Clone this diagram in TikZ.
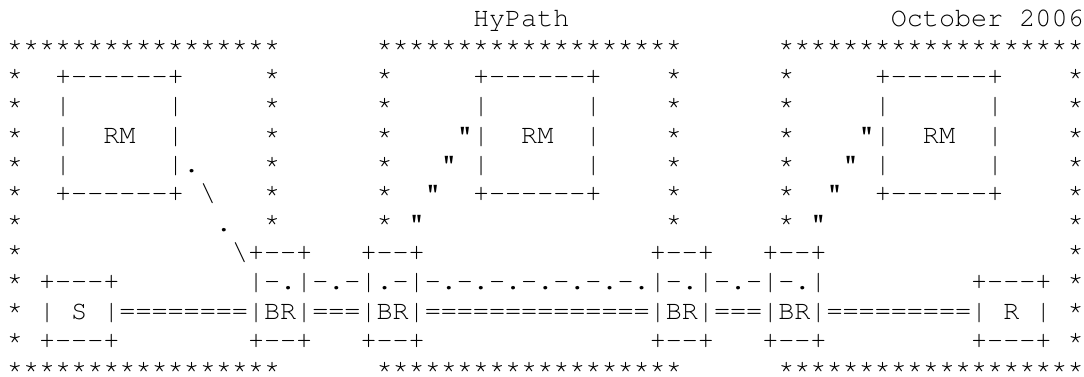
\documentclass[tikz,border=0pt]{standalone}
\usepackage[T1]{fontenc}
\renewcommand\ttdefault{pcr}
\newcommand\asciisize{\fontsize{26.78}{30}\selectfont}
% character grid: 16.07pt per column, 29.33pt per line
\newcommand\seg[5][]{\node[ascii,#1] (#2) at ({6.965+16.07*(#3)},{350-29.33*(#4)}) {#5};}
% dashes kept apart so that no ligature forms
\newcommand\dsix{-{}-{}-{}-{}-{}-}
\newcommand\dthree{-{}-{}-}
\newcommand\dtwo{-{}-}
\tikzset{
  ascii/.style={font=\ttfamily\asciisize, inner sep=0pt, outer sep=0pt,
    anchor=base west, text=black, text depth=0pt},
  frame/.style={yshift=4pt}
}
\begin{document}
\begin{tikzpicture}[x=1pt,y=1pt]
\fill[white] (0,0) rectangle (1084,376);
\useasboundingbox (0,0) rectangle (1084,376);

% header
\seg{title}{29}{0}{HyPath}
\seg{date}{55}{0}{October 2006}

% domain frames: top and bottom edges
\seg[frame]{topA}{0}{1}{*****************}
\seg[frame]{topB}{23}{1}{*******************}
\seg[frame]{topC}{48}{1}{*******************}
\seg[frame]{botA}{0}{12}{*****************}
\seg[frame]{botB}{23}{12}{*******************}
\seg[frame]{botC}{48}{12}{*******************}

% domain frames: side edges
\foreach \r in {2,...,11} {
  \seg[frame]{lA\r}{0}{\r}{*}
  \seg[frame]{rC\r}{66}{\r}{*}
}
\foreach \r in {2,...,7} {
  \seg[frame]{rA\r}{16}{\r}{*}
  \seg[frame]{lB\r}{23}{\r}{*}
  \seg[frame]{rB\r}{41}{\r}{*}
  \seg[frame]{lC\r}{48}{\r}{*}
}

% route managers
\foreach \n/\c in {1/3,2/29,3/54} {
  \seg{rmtop\n}{\c}{2}{+\dsix+}
  \foreach \r in {3,4,5} {
    \seg{rml\n\r}{\c}{\r}{|}
    \seg{rmr\n\r}{\c+7}{\r}{|}
  }
  \seg{rm\n}{\c+3}{4}{RM}
  \seg{rmbot\n}{\c}{6}{+\dsix+}
}

% signalling from the first route manager
\seg{sigA1}{11}{5}{.}
\seg{sigA2}{12}{6}{\textbackslash}
\seg{sigA3}{13}{7}{.}
\seg{sigA4}{14}{8}{\textbackslash}

% quoted links of the other route managers
\foreach \n/\c in {2/28,3/53} {
  \seg{q\n a}{\c}{4}{"}
  \seg{q\n b}{\c-1}{5}{"}
  \seg{q\n c}{\c-2}{6}{"}
  \seg{q\n d}{\c-3}{7}{"}
}

% border routers: top and bottom edges
\foreach \n/\c in {1/15,2/22,3/40,4/47} {
  \seg{brtop\n}{\c}{8}{+\dtwo+}
  \seg{brbot\n}{\c}{11}{+\dtwo+}
}

% sender and receiver edges
\seg{stop}{2}{9}{+\dthree+}
\seg{sbot}{2}{11}{+\dthree+}
\seg{rtop}{60}{9}{+\dthree+}
\seg{rbot}{60}{11}{+\dthree+}

% control path through the border routers
\seg{ctl1}{15}{9}{|-.|}
\seg{ctl12}{19}{9}{-.-}
\seg{ctl2}{22}{9}{|.-|}
\seg{ctl23}{26}{9}{-.-.-.-.-.-.-.}
\seg{ctl3}{40}{9}{|-.|}
\seg{ctl34}{44}{9}{-.-}
\seg{ctl4}{47}{9}{|-.|}

% data path
\seg{S}{2}{10}{| S |}
\seg{dS1}{7}{10}{========}
\seg{BR1}{15}{10}{|BR|}
\seg{d12}{19}{10}{===}
\seg{BR2}{22}{10}{|BR|}
\seg{d23}{26}{10}{==============}
\seg{BR3}{40}{10}{|BR|}
\seg{d34}{44}{10}{===}
\seg{BR4}{47}{10}{|BR|}
\seg{d4R}{51}{10}{=========}
\seg{R}{60}{10}{| R |}
\end{tikzpicture}
\end{document}
